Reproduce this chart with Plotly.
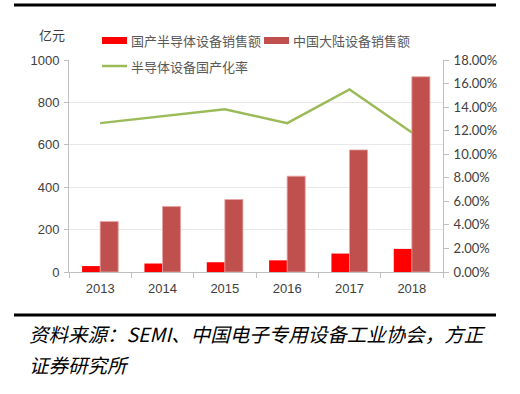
import plotly.graph_objects as go

years = ["2013", "2014", "2015", "2016", "2017", "2018"]
domestic_sales = [28, 40, 46, 55, 87, 109]
mainland_sales = [238, 309, 342, 452, 576, 921]
localization_rate = [0.1264, 0.1320, 0.1381, 0.1264, 0.1550, 0.1185]

name_domestic = "国产半导体设备销售额"
name_mainland = "中国大陆设备销售额"
name_rate = "半导体设备国产化率"
unit_label = "亿元"
source_line1 = "资料来源：SEMI、中国电子专用设备工业协会，方正"
source_line2 = "证券研究所"

color_domestic = "#FF0000"
color_mainland = "#C0504D"
color_rate = "#9BBB59"

W, H = 520, 394
L, R, T, B = 69, 77, 60, 122
ph = H - T - B
pw = W - L - R

def px(x):
    return (x - L) / pw

def py(y):
    return (H - B - y) / ph

cjk = "Noto Sans CJK SC, Liberation Sans, sans-serif"
num = "Liberation Sans, Arial, sans-serif"

fig = go.Figure()
fig.add_trace(go.Bar(x=years, y=domestic_sales, name=name_domestic,
                     marker=dict(color=color_domestic, line=dict(width=0))))
fig.add_trace(go.Bar(x=years, y=mainland_sales, name=name_mainland,
                     marker=dict(color=color_mainland, line=dict(width=0.8, color="#E6A5A3"))))
fig.add_trace(go.Scatter(x=years, y=localization_rate, name=name_rate, yaxis="y2",
                         mode="lines", line=dict(color=color_rate, width=2.5)))

fig.update_layout(
    width=W, height=H,
    margin=dict(l=L, r=R, t=T, b=B, pad=0, autoexpand=False),
    paper_bgcolor="white", plot_bgcolor="white",
    barmode="group", bargap=0.42, bargroupgap=0,
    showlegend=False,
    xaxis=dict(showline=True, linecolor="#BFBFBF", linewidth=1, ticks="outside",
               ticklen=5, tickcolor="#BFBFBF", tickson="boundaries", ticklabelstandoff=4,
               tickfont=dict(family=num, size=13, color="#404040"), showgrid=False,
               automargin=False),
    yaxis=dict(range=[0, 1000], dtick=200, showline=True, linecolor="#BFBFBF",
               ticks="outside", ticklen=4, tickcolor="#BFBFBF", ticklabelstandoff=2,
               gridcolor="#E8E8E8", gridwidth=1, zeroline=False, automargin=False,
               tickfont=dict(family=num, size=13, color="#404040")),
    yaxis2=dict(range=[0, 0.18], dtick=0.02, tickformat=".2%", overlaying="y",
                side="right", showline=True, linecolor="#BFBFBF", ticks="outside",
                ticklen=5, tickcolor="#BFBFBF", showgrid=False, zeroline=False,
                automargin=False, ticklabelstandoff=2,
                tickfont=dict(family="Lato, Liberation Sans, sans-serif", size=13, color="#404040")),
)

# manual legend
legend_items = [
    ("rect", color_domestic, name_domestic, 102, 127, 40.5),
    ("rect", color_mainland, name_mainland, 264, 289, 40.5),
    ("line", color_rate, name_rate, 102, 127, 66),
]
for kind, col, label, x0, x1, yc in legend_items:
    if kind == "rect":
        fig.add_shape(type="rect", xref="paper", yref="paper", x0=px(x0), x1=px(x1),
                      y0=py(yc - 3.5), y1=py(yc + 3.5), line=dict(width=0), fillcolor=col)
    else:
        fig.add_shape(type="line", xref="paper", yref="paper", x0=px(x0), x1=px(x1),
                      y0=py(yc), y1=py(yc), line=dict(color=col, width=2.5))
    fig.add_annotation(text=label, xref="paper", yref="paper", x=px(x1 + 2), y=py(yc),
                       xanchor="left", yanchor="middle", showarrow=False,
                       font=dict(family=cjk, size=13, color="#595959"))

fig.add_annotation(text=unit_label, xref="paper", yref="paper", x=px(52), y=py(35),
                   xanchor="center", yanchor="middle",
                   showarrow=False, font=dict(family=cjk, size=13, color="#404040"))
fig.add_annotation(text="<i>" + source_line1 + "</i>", xref="paper", yref="paper",
                   x=px(27), y=py(333), xanchor="left", yanchor="middle", showarrow=False,
                   font=dict(family=cjk, size=19.5, color="black"))
fig.add_annotation(text="<i>" + source_line2 + "</i>", xref="paper", yref="paper",
                   x=px(27), y=py(364), xanchor="left", yanchor="middle", showarrow=False,
                   font=dict(family=cjk, size=19.5, color="black"))

for yy, wd in [(5, 3), (315, 3)]:
    fig.add_shape(type="line", xref="paper", yref="paper", x0=px(14), x1=px(496),
                  y0=py(yy), y1=py(yy), line=dict(color="black", width=wd))

fig.write_html("out.html", config={"displayModeBar": False},
               post_script="document.body.style.margin='0';document.body.style.overflow='hidden';")
